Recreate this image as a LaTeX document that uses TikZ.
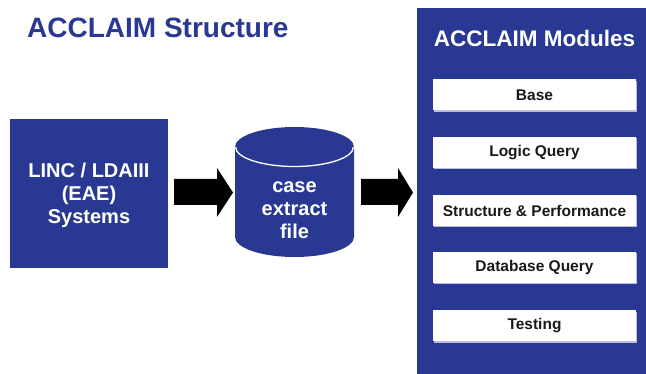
\documentclass[tikz,border=0pt]{standalone}
\usepackage{fontspec}
\setmainfont{Liberation Sans}
\usetikzlibrary{shadows}
\definecolor{accblue}{RGB}{41,57,147}
\definecolor{modtext}{RGB}{25,25,25}
\definecolor{lav}{RGB}{190,188,215}
\begin{document}
\begin{tikzpicture}[x=1pt,y=-1pt,
  bluebox/.style={rectangle, fill=accblue, inner sep=0pt},
  whitetext/.style={text=white, align=center, font=\bfseries\fontsize{20}{23}\selectfont},
  modbox/.style={rectangle, fill=white, minimum width=203pt, minimum height=31pt, inner sep=0pt,
    text=modtext, font=\bfseries\fontsize{15.5}{18}\selectfont,
    drop shadow={shadow xshift=1.2pt, shadow yshift=-1.2pt, fill=lav, opacity=1}},
  blockarrow/.style={fill=black}]
\useasboundingbox (0,0) rectangle (646,374);
\fill[white] (0,0) rectangle (646,374);

% title
\node (title) [anchor=west, inner sep=0pt, text=accblue, font=\bfseries\fontsize{28}{32}\selectfont] at (27,28) {ACCLAIM Structure};

% left box
\node (sys) [bluebox, minimum width=158pt, minimum height=149pt] at (89,193.5) {};
\node (systext) [whitetext] at (89,195) {LINC / LDAIII\\(EAE)\\Systems};

% cylinder
\fill[accblue] (235,147) -- (235,237) arc[start angle=180, end angle=0, x radius=59.5, y radius=20] -- (354,147) -- cycle;
\fill[accblue] (294.5,147) ellipse [x radius=59.5, y radius=20];
\draw[white, line width=1.3pt] (235.6,147) arc[start angle=180, end angle=0, x radius=58.9, y radius=19.5];
\node (cyl) [whitetext] at (294.5,210) {case\\extract\\file};

% arrows
\fill[blockarrow] (174,179) -- (217,179) -- (217,168) -- (233,192.5) -- (217,217) -- (217,205) -- (174,205) -- cycle;
\fill[blockarrow] (361,179) -- (398,179) -- (398,168) -- (413,192.5) -- (398,217) -- (398,205) -- (361,205) -- cycle;

% modules panel
\node (panel) [bluebox, anchor=north west, minimum width=229pt, minimum height=366pt] at (417,8) {};
\node (ptitle) [text=white, inner sep=0pt, font=\bfseries\fontsize{22.5}{26}\selectfont] at (534.5,38.5) {ACCLAIM Modules};

\node (m1) [modbox] at (534.5,95) {Base};
\node (m2) [modbox] at (534.5,152.5) {Logic Query};
\node (m3) [modbox] at (534.5,210.5) {Structure \& Performance};
\node (m4) [modbox] at (534.5,267.5) {Database Query};
\node (m5) [modbox] at (534.5,326) {Testing};
\end{tikzpicture}
\end{document}
